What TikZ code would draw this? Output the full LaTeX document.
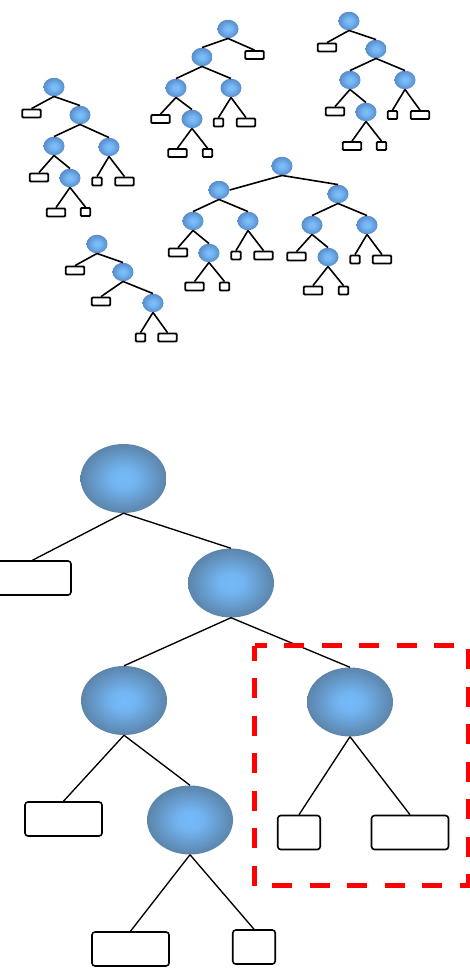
\documentclass[tikz,border=0pt]{standalone}
\usetikzlibrary{shapes.geometric}

% radial fills for the tree nodes: light sky blue centre, slate-blue rim
\pgfdeclareradialshading{bigbubble}{\pgfpoint{0bp}{0bp}}{%
  rgb(0bp)=(0.46,0.73,0.98);
  rgb(7bp)=(0.45,0.71,0.95);
  rgb(25bp)=(0.36,0.52,0.67);
  rgb(50bp)=(0.36,0.52,0.67)}
\pgfdeclareradialshading{smallbubble}{\pgfpoint{0bp}{0bp}}{%
  rgb(0bp)=(0.49,0.75,0.98);
  rgb(8bp)=(0.46,0.72,0.96);
  rgb(25bp)=(0.35,0.55,0.80);
  rgb(50bp)=(0.35,0.55,0.80)}

\tikzset{
  bigbub/.style={ellipse, inner sep=0pt, minimum width=86pt, minimum height=69pt, shading=bigbubble},
  smallbub/.style={ellipse, inner sep=0pt, minimum width=21pt, minimum height=18.5pt, shading=smallbubble},
  bigleaf/.style={draw=black, line width=1.6pt, rounded corners=3pt, inner sep=0pt, minimum height=34pt},
  bigwide/.style={bigleaf, minimum width=77pt},
  bignarrow/.style={bigleaf, minimum width=42.5pt},
  smallleaf/.style={draw=black, line width=1.8pt, rounded corners=1pt, inner sep=0pt, minimum height=8pt},
  swide/.style={smallleaf, minimum width=18.5pt},
  snarrow/.style={smallleaf, minimum width=9.5pt},
  sedge/.style={draw=black, line width=1.6pt},
  bedge/.style={draw=black, line width=1.35pt},
  subtreebox/.style={draw=red, line width=5pt, dash pattern=on 20pt off 17.5pt, dash phase=5pt}
}

\begin{document}
\begin{tikzpicture}[x=1pt, y=-1pt]
\useasboundingbox (0,0) rectangle (470,970);

% ---------- small tree A ----------
\node[smallbub] (A1) at (54,87) {};
\node[swide] (A1L) at (31.5,113.5) {};
\node[smallbub] (A2) at (80,115) {};
\node[smallbub] (A3) at (54,146) {};
\node[smallbub] (A4) at (109,147) {};
\node[swide] (A3L) at (39,177.5) {};
\node[smallbub] (A5) at (70,178) {};
\node[snarrow] (A4L) at (97,181.5) {};
\node[swide] (A4R) at (124.5,181.5) {};
\node[swide] (A5L) at (56,212.5) {};
\node[snarrow] (A5R) at (85.5,212) {};
\draw[sedge] (A1.south) -- (A1L.north);
\draw[sedge] (A1.south) -- (A2.north);
\draw[sedge] (A2.south) -- (A3.north);
\draw[sedge] (A2.south) -- (A4.north);
\draw[sedge] (A3.south) -- (A3L.north);
\draw[sedge] (A3.south) -- (A5.north);
\draw[sedge] (A4.south) -- (A4L.north);
\draw[sedge] (A4.south) -- (A4R.north);
\draw[sedge] (A5.south) -- (A5L.north);
\draw[sedge] (A5.south) -- (A5R.north);

% ---------- small tree B ----------
\node[smallbub] (B1) at (228,29) {};
\node[swide] (B1R) at (254.5,55) {};
\node[smallbub] (B2) at (202,57) {};
\node[smallbub] (B3) at (176,88) {};
\node[smallbub] (B4) at (231,88) {};
\node[swide] (B3L) at (160.5,119) {};
\node[smallbub] (B5) at (192,119) {};
\node[swide] (B5L) at (177.5,153) {};
\node[snarrow] (B5R) at (207.5,153) {};
\node[snarrow] (B4L) at (218.5,122.5) {};
\node[swide] (B4R) at (246,122.5) {};
\draw[sedge] (B1.south) -- (B2.north);
\draw[sedge] (B1.south) -- (B1R.north);
\draw[sedge] (B2.south) -- (B3.north);
\draw[sedge] (B2.south) -- (B4.north);
\draw[sedge] (B3.south) -- (B3L.north);
\draw[sedge] (B3.south) -- (B5.north);
\draw[sedge] (B5.south) -- (B5L.north);
\draw[sedge] (B5.south) -- (B5R.north);
\draw[sedge] (B4.south) -- (B4L.north);
\draw[sedge] (B4.south) -- (B4R.north);

% ---------- small tree C ----------
\node[smallbub] (C1) at (349,21) {};
\node[swide] (C1L) at (327,47.5) {};
\node[smallbub] (C2) at (376,49) {};
\node[smallbub] (C3) at (350,80) {};
\node[smallbub] (C4) at (405,80) {};
\node[swide] (C3L) at (335,111.5) {};
\node[smallbub] (C5) at (366,112) {};
\node[swide] (C5L) at (352,146) {};
\node[snarrow] (C5R) at (381.5,146) {};
\node[snarrow] (C4L) at (392.5,115) {};
\node[swide] (C4R) at (420,115) {};
\draw[sedge] (C1.south) -- (C1L.north);
\draw[sedge] (C1.south) -- (C2.north);
\draw[sedge] (C2.south) -- (C3.north);
\draw[sedge] (C2.south) -- (C4.north);
\draw[sedge] (C3.south) -- (C3L.north);
\draw[sedge] (C3.south) -- (C5.north);
\draw[sedge] (C5.south) -- (C5L.north);
\draw[sedge] (C5.south) -- (C5R.north);
\draw[sedge] (C4.south) -- (C4L.north);
\draw[sedge] (C4.south) -- (C4R.north);

% ---------- small tree D ----------
\node[smallbub] (D1) at (282,166) {};
\node[smallbub] (D2) at (219,190) {};
\node[smallbub] (D3) at (338,194) {};
\node[smallbub] (D4) at (193,221) {};
\node[smallbub] (D5) at (248,221) {};
\node[smallbub] (D6) at (312,225) {};
\node[smallbub] (D7) at (367,225) {};
\node[swide] (D4L) at (178,252.5) {};
\node[smallbub] (D8) at (209,253) {};
\node[swide] (D8L) at (194.5,286.5) {};
\node[snarrow] (D8R) at (224.5,286.5) {};
\node[snarrow] (D5L) at (236,255.5) {};
\node[swide] (D5R) at (263.5,255.5) {};
\node[swide] (D6L) at (296.5,256.5) {};
\node[smallbub] (D9) at (328,257) {};
\node[swide] (D9L) at (313,290.5) {};
\node[snarrow] (D9R) at (343.5,290.5) {};
\node[snarrow] (D7L) at (355,259.5) {};
\node[swide] (D7R) at (382,259.5) {};
\draw[sedge] (D1.south) -- (D2.east);
\draw[sedge] (D1.south) -- (D3.north);
\draw[sedge] (D2.south) -- (D4.north);
\draw[sedge] (D2.south) -- (D5.north);
\draw[sedge] (D3.south) -- (D6.north);
\draw[sedge] (D3.south) -- (D7.north);
\draw[sedge] (D4.south) -- (D4L.north);
\draw[sedge] (D4.south) -- (D8.north);
\draw[sedge] (D8.south) -- (D8L.north);
\draw[sedge] (D8.south) -- (D8R.north);
\draw[sedge] (D5.south) -- (D5L.north);
\draw[sedge] (D5.south) -- (D5R.north);
\draw[sedge] (D6.south) -- (D6L.north);
\draw[sedge] (D6.south) -- (D9.north);
\draw[sedge] (D9.south) -- (D9L.north);
\draw[sedge] (D9.south) -- (D9R.north);
\draw[sedge] (D7.south) -- (D7L.north);
\draw[sedge] (D7.south) -- (D7R.north);

% ---------- small tree E ----------
\node[smallbub] (E1) at (97,244) {};
\node[swide] (E1L) at (75,270.5) {};
\node[smallbub] (E2) at (123,272) {};
\node[swide] (E2L) at (101,301.5) {};
\node[smallbub] (E3) at (153,303) {};
\node[snarrow] (E3L) at (140.5,337.5) {};
\node[swide] (E3R) at (167.5,337.5) {};
\draw[sedge] (E1.south) -- (E1L.north);
\draw[sedge] (E1.south) -- (E2.north);
\draw[sedge] (E2.south) -- (E2L.north);
\draw[sedge] (E2.south) -- (E3.north);
\draw[sedge] (E3.south) -- (E3L.north);
\draw[sedge] (E3.south) -- (E3R.north);

% ---------- enlarged tree ----------
\node[bigbub] (R) at (123.5,478.5) {};
\node[bigwide] (RL) at (32.5,578) {};
\node[bigbub] (N2) at (231,583) {};
\node[bigbub] (N3) at (124,700.5) {};
\node[bigbub] (N4) at (350,702) {};
\node[bigwide] (N3L) at (63.5,819) {};
\node[bigbub] (N5) at (190,820) {};
\node[bigwide] (N5L) at (130.5,949) {};
\node[bignarrow] (N5R) at (254,947) {};
\node[bignarrow] (N4L) at (299,832.5) {};
\node[bigwide] (N4R) at (410,832.5) {};
\draw[bedge] (R.south) -- (RL.north);
\draw[bedge] (R.south) -- (N2.north);
\draw[bedge] (N2.south) -- (N3.north);
\draw[bedge] (N2.south) -- (N4.north);
\draw[bedge] (N3.south) -- (N3L.north);
\draw[bedge] (N3.south) -- (N5.north);
\draw[bedge] (N5.south) -- (N5L.north);
\draw[bedge] (N5.south) -- (N5R.north);
\draw[bedge] (N4.south) -- (N4L.north);
\draw[bedge] (N4.south) -- (N4R.north);

% highlighted subtree
\coordinate (boxNW) at (254.5,645.5);
\coordinate (boxSE) at (468,885.5);
\draw[subtreebox] (boxNW) rectangle (boxSE);
\end{tikzpicture}
\end{document}
